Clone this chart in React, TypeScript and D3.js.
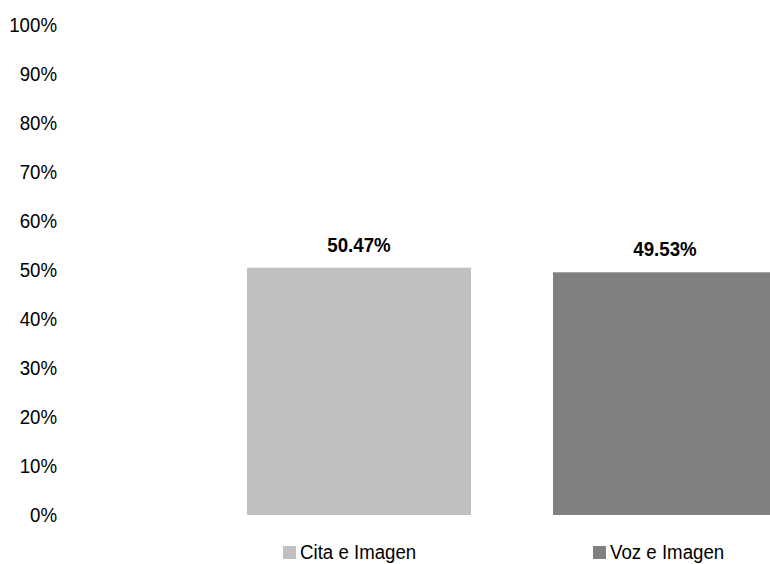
import React from "react";
import * as d3 from "d3";

const categories: string[] = ["Cita e Imagen", "Voz e Imagen"];
const values: number[] = [50.47, 49.53];
const colors: string[] = ["#c0c0c0", "#808080"];
const yTicks: number[] = [0, 10, 20, 30, 40, 50, 60, 70, 80, 90, 100];

const W = 770;
const H = 564;
const SX = 0.89;
const FONT = "'Liberation Sans', Arial, sans-serif";

function T({ x, y, anchor, size, weight, children }: any) {
  return (
    <text
      transform={`translate(${x},${y}) scale(${SX},1)`}
      textAnchor={anchor}
      fontSize={size}
      fontWeight={weight}
      fontFamily={FONT}
      fill="#000"
    >
      {children}
    </text>
  );
}

export default function App() {
  const x = d3
    .scaleBand<string>()
    .domain(categories)
    .range([206, 818])
    .paddingInner(0.268)
    .paddingOuter(0.134);
  const y = d3.scaleLinear().domain([0, 100]).range([515, 25]);
  const legendX = [283, 593];

  return (
    <svg
      width={W}
      height={H}
      style={{ position: "absolute", left: 0, top: 0, background: "#fff", overflow: "hidden" }}
    >
      <rect x={0} y={0} width={W} height={H} fill="#fff" />
      {yTicks.map((t) => (
        <T key={t} x={57} y={y(t) + 7} anchor="end" size={21} weight="normal">
          {`${t}%`}
        </T>
      ))}
      {categories.map((c, i) => (
        <g key={c}>
          <rect
            x={x(c)!}
            y={y(values[i])}
            width={x.bandwidth()}
            height={y(0) - y(values[i])}
            fill={colors[i]}
          />
          <T
            x={x(c)! + x.bandwidth() / 2}
            y={y(values[i]) - 16}
            anchor="middle"
            size={21}
            weight="bold"
          >
            {`${values[i].toFixed(2)}%`}
          </T>
        </g>
      ))}
      {categories.map((c, i) => (
        <g key={"lg" + c}>
          <rect x={legendX[i]} y={546} width={13} height={13} fill={colors[i]} />
          <T x={legendX[i] + 17} y={559} anchor="start" size={21} weight="normal">
            {c}
          </T>
        </g>
      ))}
    </svg>
  );
}
